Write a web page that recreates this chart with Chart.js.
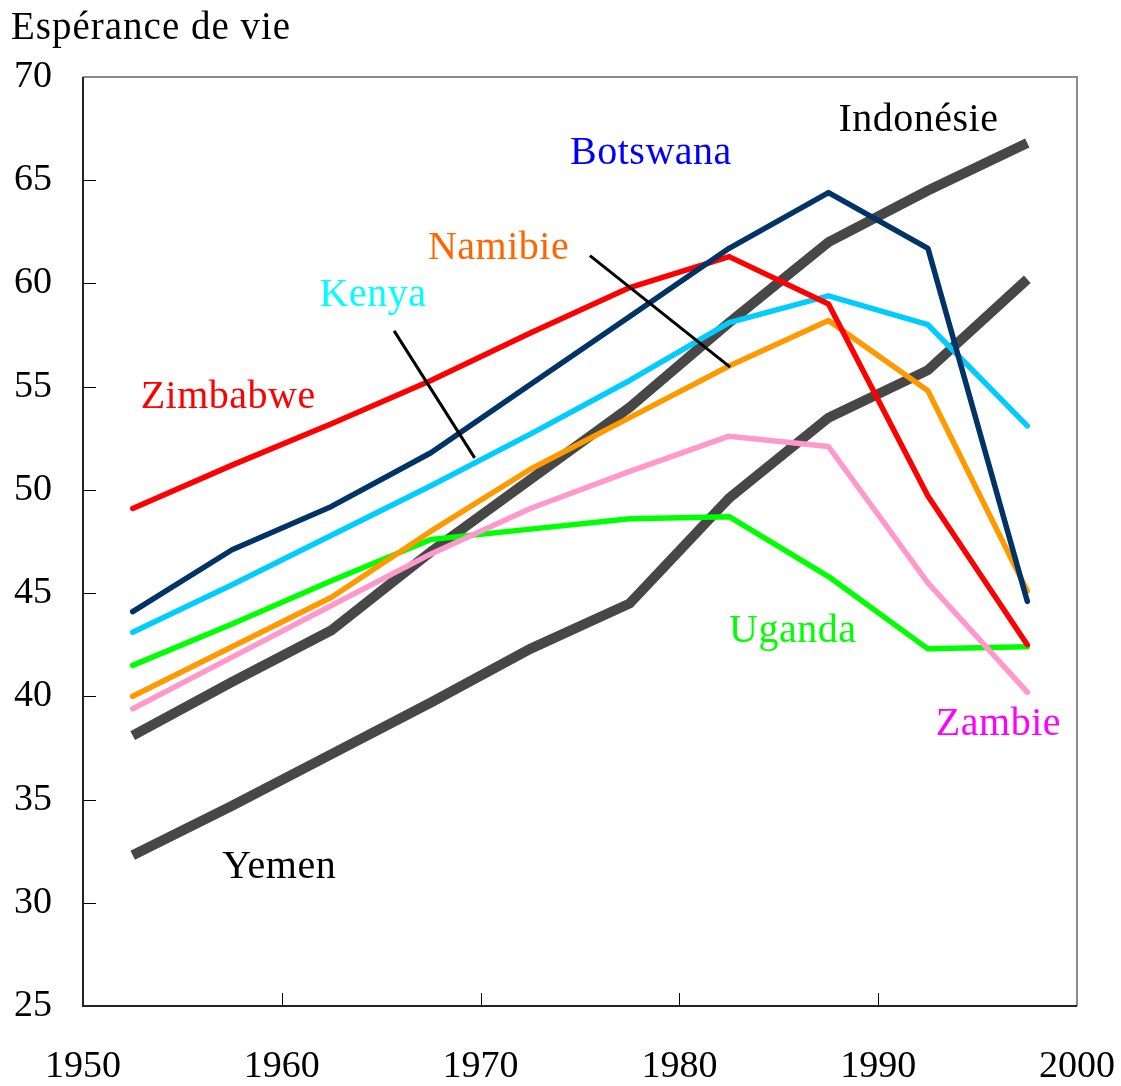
<!DOCTYPE html>
<html>
<head>
<meta charset="utf-8">
<script src="https://cdn.jsdelivr.net/npm/chart.js@4"></script>
<style>
  html, body { margin: 0; padding: 0; background: #fff; }
  #chart { display: block; }
</style>
</head>
<body>
<canvas id="chart" width="1121" height="1086"></canvas>
<script>
// ---------- DATA ----------
const years = [1952.5, 1957.5, 1962.5, 1967.5, 1972.5, 1977.5, 1982.5, 1987.5, 1992.5, 1997.5];

const botswana  = [44.1, 47.1, 49.2, 51.8, 55.1, 58.4, 61.7, 64.4, 61.7, 44.6];
const zimbabwe  = [49.1, 51.2, 53.2, 55.3, 57.6, 59.8, 61.3, 59.0, 49.7, 42.5];
const kenya     = [43.1, 45.4, 47.8, 50.2, 52.7, 55.3, 58.1, 59.4, 58.0, 53.1];
const namibie   = [40.0, 42.4, 44.8, 48.0, 51.0, 53.5, 56.0, 58.2, 54.8, 45.1];
const zambie    = [39.4, 41.9, 44.4, 46.9, 49.1, 50.9, 52.6, 52.1, 45.5, 40.2];
const uganda    = [41.5, 43.5, 45.6, 47.6, 48.1, 48.6, 48.7, 45.8, 42.3, 42.4];
const indonesie = [38.1, 40.7, 43.2, 47.0, 50.5, 54.0, 58.1, 62.0, 64.5, 66.8];
const yemen     = [32.3, 34.7, 37.2, 39.7, 42.3, 44.5, 49.6, 53.5, 55.8, 60.2];

const xTicks = [1950, 1960, 1970, 1980, 1990, 2000];
const yTicks = [25, 30, 35, 40, 45, 50, 55, 60, 65, 70];

const yTitle = "Espérance de vie";

// series labels, in data coordinates
const seriesLabels = [
    { text: "Zimbabwe",  x: 1952.9, y: 53.95, color: "#FF0000" },
    { text: "Kenya",     x: 1961.9, y: 58.9,  color: "#00FFFF" },
    { text: "Namibie",   x: 1967.35, y: 61.2, color: "#FF6600" },
    { text: "Botswana",  x: 1974.5, y: 65.8,  color: "#0000FF" },
    { text: "Indonésie", x: 1988.0, y: 67.4,  color: "#000000" },
    { text: "Uganda",    x: 1982.5, y: 42.65, color: "#00FF00" },
    { text: "Zambie",    x: 1992.9, y: 38.15, color: "#FF00FF" },
    { text: "Yemen",     x: 1957.0, y: 31.2,  color: "#000000" }
];

// leader lines from label to curve
const leaders = [
    [1965.65, 57.7, 1969.7, 51.55],
    [1975.5, 61.35, 1982.55, 55.95]
];

const FONT = "'Liberation Serif', 'Times New Roman', serif";

// ---------- HELPERS ----------
const pts = arr => arr.map((v, i) => ({ x: years[i], y: v }));

const colored = (label, arr, color) => ({
    label, data: pts(arr), borderColor: color, borderWidth: 5.5,
    borderCapStyle: 'round', borderJoinStyle: 'round', pointRadius: 0, tension: 0
});
const gray = (label, arr) => ({
    label, data: pts(arr), borderColor: '#474747', borderWidth: 10,
    borderCapStyle: 'butt', borderJoinStyle: 'miter', pointRadius: 0, tension: 0
});

// ---------- ANNOTATION PLUGIN ----------
const decor = {
    id: 'decor',
    afterDatasetsDraw(chart) {
        const { ctx, chartArea: a, scales: { x, y } } = chart;
        ctx.save();

        // inner tick marks
        ctx.strokeStyle = '#000';
        ctx.lineWidth = 1;
        xTicks.slice(1, -1).forEach(v => {
            const px = Math.round(x.getPixelForValue(v)) + 0.5;
            ctx.beginPath(); ctx.moveTo(px, a.bottom); ctx.lineTo(px, a.bottom - 13); ctx.stroke();
        });
        yTicks.slice(1, -1).forEach(v => {
            const py = Math.round(y.getPixelForValue(v)) + 0.5;
            ctx.beginPath(); ctx.moveTo(a.left, py); ctx.lineTo(a.left + 13, py); ctx.stroke();
        });

        // frame
        ctx.lineWidth = 2;
        ctx.strokeStyle = '#8a8a8a';
        ctx.beginPath();
        ctx.moveTo(a.left, a.top); ctx.lineTo(a.right, a.top); ctx.lineTo(a.right, a.bottom);
        ctx.stroke();
        ctx.strokeStyle = '#222';
        ctx.beginPath();
        ctx.moveTo(a.left, a.top); ctx.lineTo(a.left, a.bottom); ctx.lineTo(a.right, a.bottom);
        ctx.stroke();

        // leader lines
        ctx.strokeStyle = '#000';
        ctx.lineWidth = 3;
        leaders.forEach(([x1, y1, x2, y2]) => {
            ctx.beginPath();
            ctx.moveTo(x.getPixelForValue(x1), y.getPixelForValue(y1));
            ctx.lineTo(x.getPixelForValue(x2), y.getPixelForValue(y2));
            ctx.stroke();
        });

        // series labels
        ctx.font = `40px ${FONT}`;
        ctx.textAlign = 'left';
        ctx.textBaseline = 'alphabetic';
        ctx.letterSpacing = '0.5px';
        seriesLabels.forEach(l => {
            ctx.fillStyle = l.color;
            ctx.fillText(l.text, x.getPixelForValue(l.x), y.getPixelForValue(l.y));
        });

        // axis title
        ctx.fillStyle = '#000';
        ctx.font = `39px ${FONT}`;
        ctx.letterSpacing = '1px';
        ctx.fillText(yTitle, 11, 39);

        ctx.restore();
    }
};

// ---------- CHART ----------
new Chart(document.getElementById('chart'), {
    type: 'line',
    data: {
        datasets: [
            colored('Botswana', botswana, '#003366'),
            colored('Zimbabwe', zimbabwe, '#FF0000'),
            colored('Kenya', kenya, '#00CCFF'),
            colored('Namibie', namibie, '#FF9900'),
            colored('Zambie', zambie, '#FF99CC'),
            colored('Uganda', uganda, '#00FF00'),
            gray('Indonésie', indonesie),
            gray('Yemen', yemen)
        ]
    },
    options: {
        responsive: false,
        animation: false,
        layout: { padding: { top: 77, right: 44, left: 0, bottom: 0 } },
        plugins: { legend: { display: false }, tooltip: { enabled: false } },
        scales: {
            x: {
                type: 'linear', min: 1950, max: 2000,
                afterBuildTicks: s => { s.ticks = xTicks.map(v => ({ value: v })); },
                ticks: {
                    callback: v => String(v), color: '#000', padding: 38,
                    maxRotation: 0, autoSkip: false,
                    font: { family: FONT, size: 38 }
                },
                grid: { display: false, drawTicks: false },
                border: { display: false },
                afterFit: s => { s.height = 80; s.paddingLeft = 0; s.paddingRight = 0; }
            },
            y: {
                min: 25, max: 70,
                afterBuildTicks: s => { s.ticks = yTicks.map(v => ({ value: v })); },
                ticks: {
                    color: '#000', padding: 31,
                    font: { family: FONT, size: 38 }
                },
                grid: { display: false, drawTicks: false },
                border: { display: false },
                afterFit: s => { s.width = 83; s.paddingTop = 0; s.paddingBottom = 0; }
            }
        }
    },
    plugins: [decor]
});
</script>
</body>
</html>
